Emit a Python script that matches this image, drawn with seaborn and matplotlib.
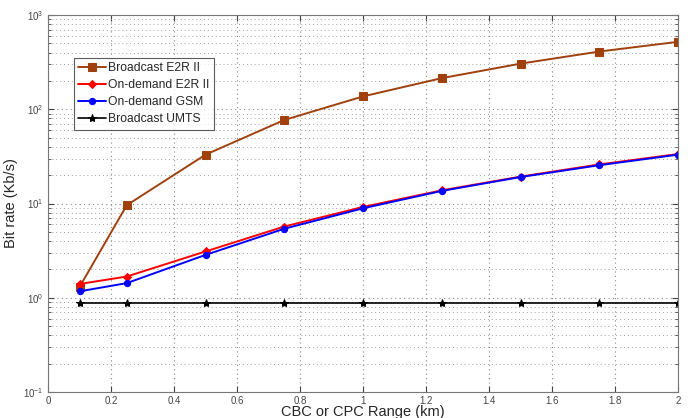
import pandas as pd
import seaborn as sns
import matplotlib.pyplot as plt
from matplotlib.ticker import LogLocator, FixedLocator

# данные
range_km = [0.1, 0.25, 0.5, 0.75, 1.0, 1.25, 1.5, 1.75, 2.0]
broadcast_e2r = [1.3, 9.6, 33, 77, 137, 214, 305, 410, 520]
ondemand_e2r = [1.4, 1.68, 3.1, 5.7, 9.2, 13.8, 19.3, 26, 33.5]
ondemand_gsm = [1.17, 1.43, 2.85, 5.4, 8.9, 13.6, 19.1, 25.5, 33]
broadcast_umts = [0.88, 0.88, 0.88, 0.88, 0.88, 0.88, 0.88, 0.88, 0.88]

series_names = ['Broadcast E2R II', 'On-demand E2R II', 'On-demand GSM', 'Broadcast UMTS']
series_values = [broadcast_e2r, ondemand_e2r, ondemand_gsm, broadcast_umts]
colors = ['#a0410d', '#ff0000', '#0000ff', '#000000']
markers = ['s', 'D', 'o', '*']
msizes = [5.5, 4.5, 4.5, 6]
lwidths = [1.4, 1.4, 1.4, 1.2]

sns.set_style('ticks')
plt.rcParams['font.family'] = ['Liberation Sans', 'DejaVu Sans']

fig = plt.figure(figsize=(6.88, 4.18), dpi=100)
ax = fig.add_axes([0.0698, 0.0622, 0.9157, 0.9018])

for name, vals, c, m, ms, lw in zip(series_names, series_values, colors, markers, msizes, lwidths):
    df = pd.DataFrame({'x': range_km, 'y': vals})
    sns.lineplot(data=df, x='x', y='y', ax=ax, color=c, marker=m, markersize=ms,
                 markeredgecolor=c, linewidth=lw, label=name)

ax.set_yscale('log')
ax.set_xlim(0, 2)
ax.set_ylim(0.1, 1000)
ax.xaxis.set_major_locator(FixedLocator([0, 0.2, 0.4, 0.6, 0.8, 1, 1.2, 1.4, 1.6, 1.8, 2]))
ax.set_xticklabels(['0', '0.2', '0.4', '0.6', '0.8', '1', '1.2', '1.4', '1.6', '1.8', '2'])
ax.yaxis.set_major_locator(LogLocator(base=10, numticks=10))
ax.yaxis.set_minor_locator(LogLocator(base=10, subs=range(2, 10), numticks=10))
ax.yaxis.set_minor_formatter(plt.NullFormatter())

ax.grid(True, which='major', linestyle=(0, (1, 3)), color='#888888', linewidth=0.8)
ax.grid(True, which='minor', axis='y', linestyle=(0, (1, 3)), color='#a0a0a0', linewidth=0.7)
ax.tick_params(which='both', direction='in', labelsize=7, colors='#444444', top=True, right=True)
ax.tick_params(which='major', length=4, pad=3)
ax.tick_params(which='minor', length=2)
for s in ax.spines.values():
    s.set_color('#777777')

ax.set_xlabel('CBC or CPC Range (km)', fontsize=10.5, labelpad=-1)
ax.set_ylabel('Bit rate (Kb/s)', fontsize=10.5, labelpad=4)

leg = ax.legend(loc='upper left', bbox_to_anchor=(0.041, 0.886), fontsize=8.7,
                frameon=True, fancybox=False, edgecolor='#333333', handlelength=2.3,
                handletextpad=0.2, borderpad=0.35, labelspacing=0.42, borderaxespad=0)
leg.get_frame().set_linewidth(0.8)

fig.savefig('out.png', dpi=100)
